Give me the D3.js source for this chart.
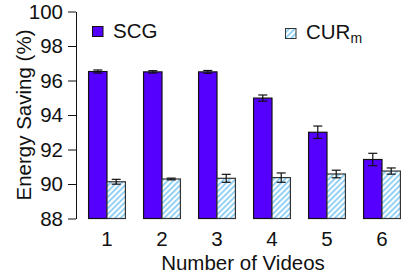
<!DOCTYPE html>
<html>
<head>
<meta charset="utf-8">
<script src="https://cdn.jsdelivr.net/npm/d3@7/dist/d3.min.js"></script>
<style>
  html, body { margin: 0; padding: 0; background: #fff; }
  svg text { font-family: "Liberation Sans", Arial, Helvetica, sans-serif; fill: #111; }
</style>
</head>
<body>
<svg id="chart" width="401" height="280"></svg>
<script>
// ---- data ----
const categories = ["1", "2", "3", "4", "5", "6"];
const seriesNames = ["SCG", "CUR"];
const scgValues = [96.52, 96.50, 96.50, 94.98, 93.00, 91.42];
const scgErrors = [0.09, 0.07, 0.08, 0.18, 0.36, 0.36];
const curValues = [90.13, 90.29, 90.33, 90.37, 90.58, 90.75];
const curErrors = [0.14, 0.05, 0.23, 0.27, 0.22, 0.18];
const yTicks = [88, 90, 92, 94, 96, 98, 100];

const svg = d3.select("#chart");
const FONT = 20.5;

const y = d3.scaleLinear().domain([88, 100]).range([218.5, 11.5]);
const x = d3.scaleBand().domain(categories).range([79.5, 409.5])
  .paddingInner(0.33).paddingOuter(0.165);
const xs = d3.scaleBand().domain(seriesNames).range([0, x.bandwidth()]);

// hatch pattern
const defs = svg.append("defs");
const pat = defs.append("pattern").attr("id", "hatch")
  .attr("patternUnits", "userSpaceOnUse").attr("width", 4).attr("height", 4)
  .attr("patternTransform", "rotate(45)");
pat.append("rect").attr("width", 4).attr("height", 4).attr("fill", "#ffffff");
pat.append("rect").attr("x", 0).attr("width", 1.6).attr("height", 4).attr("fill", "#7cc8f5");

const rows = categories.map((c, i) => ({
  c,
  bars: [
    { s: "SCG", v: scgValues[i], e: scgErrors[i] },
    { s: "CUR", v: curValues[i], e: curErrors[i] }
  ]
}));

const g = svg.append("g");
const grp = g.selectAll("g.grp").data(rows).enter().append("g")
  .attr("transform", d => `translate(${x(d.c)},0)`);

grp.selectAll("rect").data(d => d.bars).enter().append("rect")
  .attr("x", d => xs(d.s))
  .attr("y", d => y(d.v))
  .attr("width", xs.bandwidth())
  .attr("height", d => y(88) - y(d.v))
  .attr("fill", d => d.s === "SCG" ? "#5500ff" : "url(#hatch)")
  .attr("stroke", d => d.s === "SCG" ? "#111" : "#333")
  .attr("stroke-width", 1.2);

// error bars
const eb = grp.selectAll("g.eb").data(d => d.bars).enter().append("g")
  .attr("stroke", "#111").attr("stroke-width", 1.2);
const cx = d => xs(d.s) + xs.bandwidth() / 2;
eb.append("line").attr("x1", cx).attr("x2", cx)
  .attr("y1", d => y(d.v + d.e)).attr("y2", d => y(d.v - d.e));
eb.append("line").attr("x1", d => cx(d) - 4.5).attr("x2", d => cx(d) + 4.5)
  .attr("y1", d => y(d.v + d.e)).attr("y2", d => y(d.v + d.e));
eb.append("line").attr("x1", d => cx(d) - 4.5).attr("x2", d => cx(d) + 4.5)
  .attr("y1", d => y(d.v - d.e)).attr("y2", d => y(d.v - d.e));

// y axis
const yAxis = d3.axisLeft(y).tickValues(yTicks).tickSize(8).tickPadding(5).tickSizeOuter(0);
const ya = svg.append("g").attr("transform", "translate(76,0)").call(yAxis);
ya.select(".domain").attr("stroke", "#111");
ya.selectAll(".tick line").attr("stroke", "#111");
ya.selectAll("text").attr("font-size", FONT).attr("font-family", "Liberation Sans, Arial, sans-serif").attr("fill", "#111");

// x axis (labels only)
const xAxis = d3.axisBottom(x).tickSize(0).tickPadding(12);
const xa = svg.append("g").attr("transform", "translate(0,219)").call(xAxis);
xa.selectAll(".tick").attr("transform", d => `translate(${x(d) + x.bandwidth()/2},0)`);
xa.select(".domain").remove();
xa.selectAll("text").attr("font-size", FONT).attr("font-family", "Liberation Sans, Arial, sans-serif").attr("fill", "#111");

// axis titles
svg.append("text").attr("x", 243).attr("y", 270).attr("text-anchor", "middle")
  .attr("font-size", FONT).text("Number of Videos");
svg.append("text").attr("transform", "translate(31,115) rotate(-90)")
  .attr("text-anchor", "middle").attr("font-size", FONT).text("Energy Saving (%)");

// legend
svg.append("rect").attr("x", 92.5).attr("y", 26.5).attr("width", 10.5).attr("height", 10)
  .attr("fill", "#5500ff").attr("stroke", "#111").attr("stroke-width", 1);
svg.append("text").attr("x", 113).attr("y", 38).attr("font-size", FONT).text("SCG");
svg.append("rect").attr("x", 285.5).attr("y", 28.5).attr("width", 10.5).attr("height", 10)
  .attr("fill", "url(#hatch)").attr("stroke", "#333").attr("stroke-width", 1);
const lt = svg.append("text").attr("x", 306).attr("y", 39).attr("font-size", FONT);
lt.append("tspan").text("CUR");
lt.append("tspan").attr("font-size", 14).attr("dy", 4).text("m");
</script>
</body>
</html>
